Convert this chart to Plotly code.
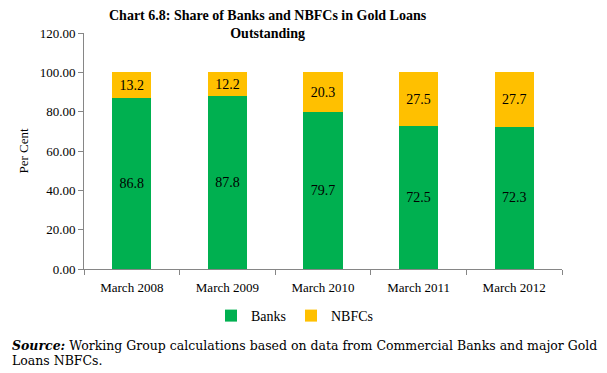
import plotly.graph_objects as go

categories = ["March 2008", "March 2009", "March 2010", "March 2011", "March 2012"]
banks = [86.8, 87.8, 79.7, 72.5, 72.3]
nbfcs = [13.2, 12.2, 20.3, 27.5, 27.7]

L, R, T, B = 84, 45, 33, 104
W, H = 607, 373
pw, ph = W - L - R, H - T - B

serif = "Liberation Serif"

fig = go.Figure()
fig.add_trace(go.Bar(x=categories, y=banks, name="Banks", marker=dict(color="#00B050", line=dict(width=0)),
                     text=[f"{v:.1f}" for v in banks], textposition="inside", insidetextanchor="middle",
                     textfont=dict(family=serif, size=14, color="black")))
fig.add_trace(go.Bar(x=categories, y=nbfcs, name="NBFCs", marker=dict(color="#FFC000", line=dict(width=0)),
                     text=[f"{v:.1f}" for v in nbfcs], textposition="inside", insidetextanchor="middle",
                     textfont=dict(family=serif, size=14, color="black")))

fig.update_layout(
    width=W, height=H, barmode="stack", bargap=0.59,
    margin=dict(l=L, r=R, t=T, b=B),
    paper_bgcolor="white", plot_bgcolor="white",
    font=dict(family=serif, size=12, color="black"),
    uniformtext=dict(minsize=8, mode="show"),
    legend=dict(orientation="h", x=(295 - L) / pw, xanchor="center", y=(T + ph - 316) / ph, yanchor="middle",
                font=dict(family=serif, size=14), itemwidth=30, traceorder="normal"),
    showlegend=True,
)
fig.add_annotation(xref="paper", yref="paper", x=(268 - L) / pw, y=(T + ph - 24) / ph,
                   xanchor="center", yanchor="middle", showarrow=False, align="center",
                   text="<b>Chart 6.8: Share of Banks and NBFCs in Gold Loans<br>Outstanding</b>",
                   font=dict(family=serif, size=14, color="black"))
fig.update_xaxes(showline=True, linecolor="#868686", linewidth=1, ticks="outside", tickson="boundaries",
                 ticklen=5, tickcolor="#868686", tickfont=dict(family=serif, size=13), ticklabelstandoff=6)
fig.update_yaxes(range=[0, 120], dtick=20, tickformat=".2f", showgrid=False, showline=True,
                 linecolor="#868686", linewidth=1, ticks="outside", ticklen=5, tickcolor="#868686",
                 tickfont=dict(family=serif, size=13), zeroline=False,
                 title=dict(text="Per Cent", font=dict(family=serif, size=13), standoff=8))

fig.add_annotation(xref="paper", yref="paper", x=(10 - L) / pw, y=(T + ph - 345) / ph,
                   xanchor="left", yanchor="middle", showarrow=False, align="left",
                   text="<b><i>Source:</i></b> Working Group calculations based on data from Commercial Banks and major Gold",
                   font=dict(family="DejaVu Serif", size=12.5, color="black"))
fig.add_annotation(xref="paper", yref="paper", x=(10 - L) / pw, y=(T + ph - 360) / ph,
                   xanchor="left", yanchor="middle", showarrow=False, align="left",
                   text="Loans NBFCs.",
                   font=dict(family="DejaVu Serif", size=12.5, color="black"))

fig.write_html("out.html", config={"displayModeBar": False},
               post_script="document.body.style.margin='0';document.body.style.padding='0';")
